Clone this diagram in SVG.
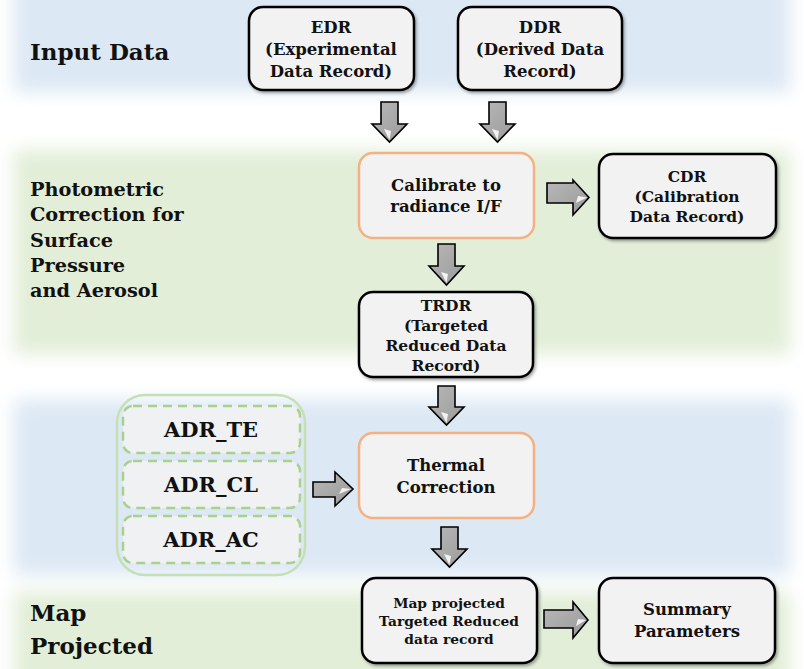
<svg xmlns="http://www.w3.org/2000/svg" width="804" height="669" viewBox="0 0 804 669">
  <defs>
    <filter id="soft" x="-10%" y="-30%" width="120%" height="160%">
      <feGaussianBlur stdDeviation="9"/>
    </filter>
    <filter id="shadow" x="-10%" y="-10%" width="125%" height="130%">
      <feDropShadow dx="1.5" dy="2" stdDeviation="1.5" flood-color="#000" flood-opacity="0.35"/>
    </filter>
    <linearGradient id="arrowFill" x1="0" y1="0" x2="1" y2="1">
      <stop offset="0" stop-color="#b8b8b8"/>
      <stop offset="1" stop-color="#9a9a9a"/>
    </linearGradient>
    <style>
      .band-blue { fill: #dce8f4; }
      .band-green { fill: #e2eed8; }
      .box { fill: #f2f2f2; stroke: #000; stroke-width: 2.5; }
      .box-orange { fill: #f2f2f2; stroke: #f4b183; stroke-width: 2.5; }
      .group { fill: none; stroke: #c5e0b4; stroke-width: 2.5; }
      .dashed { fill: #f0f1f2; stroke: #a9d18e; stroke-width: 2.5; stroke-dasharray: 9 6; }
      .arrow { fill: url(#arrowFill); stroke: #000; stroke-width: 1.6; stroke-linejoin: miter; }
      .shine { fill: #ffffff; opacity: 0.85; }
      text { font-family: "DejaVu Serif", "Liberation Serif", serif; font-weight: bold; fill: #111; }
      .t { text-anchor: middle; font-size: 16.5px; }
      .tm { text-anchor: middle; font-size: 15.5px; }
      .ts { text-anchor: middle; font-size: 13.8px; }
      .lbl { font-size: 23px; }
      .lbl-m { font-size: 19.3px; }
      .adr { text-anchor: middle; font-size: 21px; }
    </style>
  </defs>

  <!-- background bands -->
  <rect width="804" height="669" fill="#ffffff"/>
  <g id="bands" filter="url(#soft)">
    <rect class="band-blue" x="14" y="-30" width="776" height="122"/>
    <rect class="band-green" x="14" y="150" width="776" height="204"/>
    <rect class="band-blue" x="14" y="400" width="776" height="175"/>
    <rect class="band-green" x="14" y="592" width="776" height="100"/>
  </g>

  <!-- section labels -->
  <g id="labels">
    <text class="lbl" x="30" y="60">Input Data</text>
    <text class="lbl-m" x="30" y="196">Photometric</text>
    <text class="lbl-m" x="30" y="221">Correction for</text>
    <text class="lbl-m" x="30" y="247">Surface</text>
    <text class="lbl-m" x="30" y="272">Pressure</text>
    <text class="lbl-m" x="30" y="297">and Aerosol</text>
    <text class="lbl" x="30" y="621">Map</text>
    <text class="lbl" x="30" y="654">Projected</text>
  </g>

  <!-- nodes -->
  <g id="edr">
    <rect class="box" x="249" y="7" width="165" height="83" rx="14" filter="url(#shadow)"/>
    <text class="t" x="331" y="33">EDR</text>
    <text class="t" x="331" y="55">(Experimental</text>
    <text class="t" x="331" y="77">Data Record)</text>
  </g>
  <g id="ddr">
    <rect class="box" x="458" y="7" width="164" height="83" rx="14" filter="url(#shadow)"/>
    <text class="t" x="540" y="33">DDR</text>
    <text class="t" x="540" y="55">(Derived Data</text>
    <text class="t" x="540" y="77">Record)</text>
  </g>
  <g id="calibrate">
    <rect class="box-orange" x="359" y="153" width="175" height="85" rx="14"/>
    <text class="t" x="446" y="191">Calibrate to</text>
    <text class="t" x="446" y="212">radiance I/F</text>
  </g>
  <g id="cdr">
    <rect class="box" x="599" y="154" width="177" height="84" rx="14" filter="url(#shadow)"/>
    <text class="tm" x="687" y="182">CDR</text>
    <text class="tm" x="687" y="202">(Calibration</text>
    <text class="tm" x="687" y="222">Data Record)</text>
  </g>
  <g id="trdr">
    <rect class="box" x="359" y="292" width="174" height="85" rx="14" filter="url(#shadow)"/>
    <text class="tm" x="446" y="311">TRDR</text>
    <text class="tm" x="446" y="331">(Targeted</text>
    <text class="tm" x="446" y="351">Reduced Data</text>
    <text class="tm" x="446" y="371">Record)</text>
  </g>
  <g id="adr">
    <rect class="group" x="117" y="395" width="188" height="180" rx="28"/>
    <g id="adr-te">
      <rect class="dashed" x="123" y="406" width="177" height="47" rx="10"/>
      <text class="adr" x="211" y="437">ADR_TE</text>
    </g>
    <g id="adr-cl">
      <rect class="dashed" x="123" y="461" width="177" height="47" rx="10"/>
      <text class="adr" x="211" y="492">ADR_CL</text>
    </g>
    <g id="adr-ac">
      <rect class="dashed" x="123" y="516" width="177" height="47" rx="10"/>
      <text class="adr" x="211" y="547">ADR_AC</text>
    </g>
  </g>
  <g id="thermal">
    <rect class="box-orange" x="359" y="433" width="175" height="85" rx="14"/>
    <text class="t" x="446" y="471">Thermal</text>
    <text class="t" x="446" y="493">Correction</text>
  </g>
  <g id="map-trdr">
    <rect class="box" x="362" y="578" width="175" height="85" rx="14" filter="url(#shadow)"/>
    <text class="ts" x="449" y="608">Map projected</text>
    <text class="ts" x="449" y="626">Targeted Reduced</text>
    <text class="ts" x="449" y="644">data record</text>
  </g>
  <g id="summary">
    <rect class="box" x="599" y="578" width="176" height="85" rx="14" filter="url(#shadow)"/>
    <text class="t" x="687" y="615">Summary</text>
    <text class="t" x="687" y="637">Parameters</text>
  </g>

  <!-- block arrows -->
  <g id="connectors">
    <!-- EDR -> Calibrate -->
    <polygon class="arrow" points="381,102 398,102 398,124 407,124 389.5,142 372,124 381,124"/>
    <polygon class="shine" points="389.5,140 384,129 391,131"/>
    <!-- DDR -> Calibrate -->
    <polygon class="arrow" points="489,102 506,102 506,124 515,124 497.5,142 480,124 489,124"/>
    <polygon class="shine" points="497.5,140 492,129 499,131"/>
    <!-- Calibrate -> CDR -->
    <polygon class="arrow" points="547,183 573,183 573,180 589,197.5 573,215 573,203 547,203"/>
    <polygon class="shine" points="587,197.5 576,203 578,196"/>
    <!-- Calibrate -> TRDR -->
    <polygon class="arrow" points="438,244 455,244 455,266 464,266 446.5,285 429,266 438,266"/>
    <polygon class="shine" points="446.5,283 441,272 448,274"/>
    <!-- TRDR -> Thermal -->
    <polygon class="arrow" points="438,386 455,386 455,407 464,407 446.5,425 429,407 438,407"/>
    <polygon class="shine" points="446.5,423 441,412 448,414"/>
    <!-- ADR -> Thermal -->
    <polygon class="arrow" points="313,482 335,482 335,472 353,489 335,506 335,497 313,497"/>
    <polygon class="shine" points="351,489 339,494 342,488"/>
    <!-- Thermal -> Map projected -->
    <polygon class="arrow" points="441,527 458,527 458,549 467,549 449.5,567 432,549 441,549"/>
    <polygon class="shine" points="449.5,565 444,554 451,556"/>
    <!-- Map projected -> Summary -->
    <polygon class="arrow" points="544,610 573,610 573,602 588,620 573,638 573,628 544,628"/>
    <polygon class="shine" points="586,620 576,626 578,619"/>
  </g>
</svg>
